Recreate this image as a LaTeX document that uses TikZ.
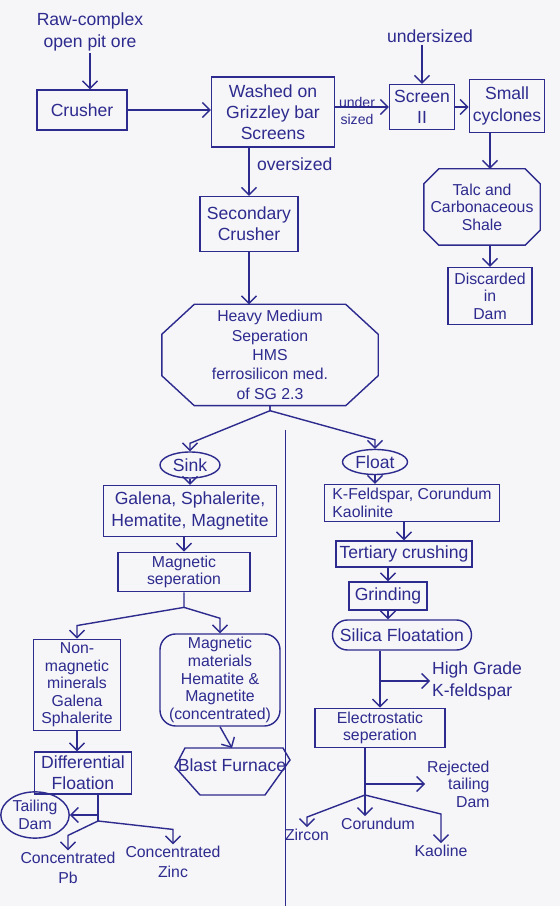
\documentclass[tikz,border=0pt]{standalone}
\usepackage{fontspec}
\setmainfont{Liberation Sans}
\usetikzlibrary{arrows.meta,positioning,calc,shapes.misc,shapes.geometric}
\definecolor{inkblue}{HTML}{2D2B8E}
\definecolor{paper}{HTML}{F6F5F8}
\tikzset{
  bx/.style={draw=inkblue, thick, text=inkblue, align=center, font=\normalsize, inner sep=2pt},
  blk/.style={bx, rectangle},
  oct/.style={bx, rectangle, draw=none},
  oval/.style={bx, ellipse, inner sep=1pt},
  pill/.style={bx, rounded rectangle},
  soft/.style={bx, rounded corners=9pt},
  tight/.style={font=\fontsize{9}{10}\selectfont},
  txt/.style={align=center, text=inkblue, font=\normalsize, inner sep=1pt},
  arr/.style={-{Straight Barb[length=1.5mm]}, thick, color=inkblue},
  ln/.style={thick, color=inkblue},
}
% octagon frame round a node: node, corner cut along x, corner cut along y
\newcommand{\cutframe}[3]{%
  \draw[ln] ($(#1.north west)+(#2,0)$) -- ($(#1.north east)+(-#2,0)$) -- ($(#1.north east)+(0,-#3)$)
    -- ($(#1.south east)+(0,#3)$) -- ($(#1.south east)+(-#2,0)$) -- ($(#1.south west)+(#2,0)$)
    -- ($(#1.south west)+(0,#3)$) -- ($(#1.north west)+(0,-#3)$) -- cycle;}

\begin{document}
\begin{tikzpicture}
    \useasboundingbox[fill=paper] (0,0) rectangle (11.2,18.12);
    % top row
    \node[txt] (raw) at (1.80,17.48) {Raw-complex\\open pit ore};
    \node[blk, minimum width=1.8cm, minimum height=0.8cm] (crusher) at (1.64,15.92) {Crusher};
    \node[blk, minimum width=2.46cm, minimum height=1.4cm] (washed) at (5.46,15.88) {Washed on\\Grizzley bar\\Screens};
    \node[txt, font=\footnotesize] (usl) at (7.14,15.90) {under\\sized};
    \node[txt] (usz) at (8.60,17.40) {undersized};
    \node[blk, minimum width=1.3cm, minimum height=0.9cm] (screen) at (8.44,15.98) {Screen\\II};
    \node[blk, minimum width=1.5cm, minimum height=1.06cm] (cyclones) at (10.14,16.0) {Small\\cyclones};
    \node[oct, tight, minimum width=2.3cm, minimum height=1.5cm] (talc) at (9.64,13.98) {Talc and\\Carbonaceous\\Shale};
    \node[blk, minimum width=1.68cm, minimum height=1.14cm, tight] (dam) at (9.80,12.20) {Discarded\\in\\Dam};
    \node[txt, anchor=west] (osl) at (5.10,14.84) {oversized};
    \node[blk, minimum width=1.96cm, minimum height=1.1cm] (secondary) at (4.98,13.64) {Secondary\\Crusher};
    \node[oct, minimum width=4.3cm, minimum height=2.0cm, font=\small] (hms) at (5.40,11.02) {Heavy Medium\\Seperation\\HMS\\ferrosilicon med.\\of SG 2.3};
    \cutframe{talc}{0.3}{0.3}
    \cutframe{hms}{0.65}{0.6}
    \draw[arr] (raw.south) -- (raw.south |- crusher.north);
    \draw[arr] (crusher.east) -- (crusher.east -| washed.west);
    \draw[arr] (washed.east |- screen.west) -- (screen.west);
    \draw[arr] (screen.north |- usz.south) -- (screen.north);
    \draw[arr] (screen.east) -- (screen.east -| cyclones.west);
    \draw[arr] (cyclones.south -| dam.north) -- (talc.north -| dam.north);
    \draw[arr] (talc.south -| dam.north) -- (dam.north);
    \draw[arr] (secondary.north |- washed.south) -- (secondary.north);
    \draw[arr] (secondary.south) -- (secondary.south |- hms.north);
    % left branch
    \node[oval, minimum width=1.2cm, minimum height=0.52cm] (sink) at (3.80,8.82) {Sink};
    \node[blk, minimum width=3.46cm, minimum height=1.02cm] (galena) at (3.80,7.90) {Galena, Sphalerite,\\Hematite, Magnetite};
    \node[blk, tight, minimum width=2.64cm, minimum height=0.62cm] (magsep) at (3.68,6.68) {Magnetic\\seperation};
    \node[blk, tight, minimum width=1.74cm, minimum height=1.68cm] (nonmag) at (1.54,4.42) {Non-\\magnetic\\minerals\\Galena\\Sphalerite};
    \node[soft, tight, minimum width=2.4cm, minimum height=1.6cm] (magmat) at (4.40,4.52) {Magnetic\\materials\\Hematite \&\\Magnetite\\(concentrated)};
    \node[blk, minimum width=1.94cm, minimum height=0.84cm] (diff) at (1.66,2.66) {Differential\\Floation};
    \node[txt, anchor=north, inner ysep=0.2cm] (blast) at (4.64,3.16) {Blast Furnace};
    \node[oval, tight, minimum width=0.96cm, minimum height=0.78cm] (tailing) at (0.70,1.82) {Tailing\\Dam};
    \node[txt, font=\small] (pb) at (1.36,0.76) {Concentrated\\Pb};
    \node[txt, font=\small] (zinc) at (3.46,0.88) {Concentrated\\Zinc};
    \coordinate (dj) at (1.96,1.70);
    \draw[ln] ($(blast.north)+(-0.94,0)$) -- ($(blast.north)+(1.02,0)$) -- ($(blast.north)+(1.16,-0.24)$)
      -- ($(blast.north)+(0.66,-0.94)$) -- ($(blast.north)+(-0.64,-0.94)$) -- ($(blast.north)+(-1.14,-0.38)$) -- cycle;
    \draw[arr] (hms.south) -- ++(0,-0.1) -- ($(sink.north)+(0,0.16)$) -- (sink.north);
    \draw[arr] (sink.south) -- (sink.south |- galena.north);
    \draw[arr] (magsep.north |- galena.south) -- (magsep.north);
    \draw[arr] (magsep.south) -- ++(0,-0.3) -- ($(nonmag.north)+(0,0.26)$) -- (nonmag.north);
    \draw[arr] (magsep.south) ++(0,-0.3) -- ($(magmat.north)+(0,0.3)$) -- (magmat.north);
    \draw[arr] (nonmag.south) -- (nonmag.south |- diff.north);
    \draw[arr] (magmat.south) -- (blast.north);
    \draw[ln] (diff.south -| dj) -- (dj);
    \draw[arr] (dj |- tailing.east) -- (tailing.east);
    \draw[arr] (dj) -- ($(pb.north)+(0,0.3)$) -- (pb.north);
    \draw[arr] (dj) -- ($(zinc.north)+(0,0.3)$) -- (zinc.north);
    % right branch
    \node[oval, minimum width=1.3cm, minimum height=0.5cm] (float) at (7.50,8.88) {Float};
    \node[blk, align=left, minimum width=3.5cm, minimum height=0.74cm, tight] (kfeld) at (8.24,8.06) {K-Feldspar, Corundum\\Kaolinite};
    \node[blk, minimum width=2.7cm, minimum height=0.52cm] (tertiary) at (8.08,7.04) {Tertiary crushing};
    \node[blk, minimum width=1.56cm, minimum height=0.56cm] (grinding) at (7.76,6.20) {Grinding};
    \node[pill, minimum width=2.92cm, minimum height=0.6cm] (silica) at (8.04,5.42) {Silica Floatation};
    \node[txt, anchor=west, align=left] (hg) at (8.60,4.50) {High Grade\\K-feldspar};
    \node[blk, tight, minimum width=2.6cm, minimum height=0.68cm] (electro) at (7.60,3.56) {Electrostatic\\seperation};
    \node[txt, tight, anchor=west, align=right] (rej) at (8.50,2.44) {Rejected\\tailing\\Dam};
    \node[txt, font=\small] (zircon) at (6.14,1.42) {Zircon};
    \node[txt, font=\small] (corundum) at (7.56,1.64) {Corundum};
    \node[txt, font=\small] (kaoline) at (8.82,1.10) {Kaoline};
    \coordinate (ej) at (7.30,2.22);
    \draw[arr] (hms.south) -- ++(0,-0.1) -- ($(float.north)+(0,0.18)$) -- (float.north);
    \draw[arr] (float.south) -- (float.south |- kfeld.north);
    \draw[arr] (tertiary.north |- kfeld.south) -- (tertiary.north);
    \draw[arr] (grinding.north |- tertiary.south) -- (grinding.north);
    \draw[arr] (grinding.south) -- (grinding.south |- silica.north);
    \draw[arr] (electro.north |- silica.south) -- (electro.north);
    \draw[arr] (electro.north |- hg.west) -- (hg.west);
    \draw[ln] (electro.south -| ej) -- (ej);
    \draw[arr] (ej |- rej.west) -- (rej.west);
    \draw[arr] (ej) -- ($(zircon.north)+(0,0.2)$) -- (zircon.north);
    \draw[arr] (ej) -- (ej |- corundum.north);
    \draw[arr] (ej) -- ($(kaoline.north)+(0,0.58)$) -- (kaoline.north);
    % page divider
    \draw[ln, thin] (5.70,9.52) -- (5.70,0);
\end{tikzpicture}
\end{document}
